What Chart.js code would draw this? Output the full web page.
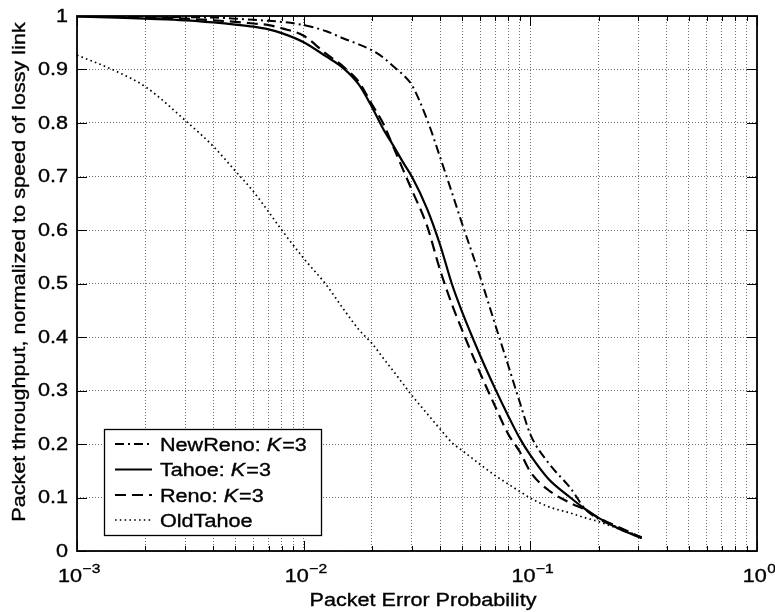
<!DOCTYPE html>
<html>
<head>
<meta charset="utf-8">
<script src="https://cdn.jsdelivr.net/npm/chart.js@4.4.1/dist/chart.umd.min.js"></script>
<style>
  html, body { margin: 0; padding: 0; background: #fff; }
</style>
</head>
<body>
<canvas id="chart" width="775" height="612"></canvas>
<script>
// packet error probability (x, log scale)
const errProb = [0.001, 0.0015, 0.002, 0.003, 0.004, 0.005, 0.006, 0.007, 0.008, 0.01,
  0.0125, 0.015, 0.0175, 0.02, 0.0225, 0.025, 0.0275, 0.03, 0.035, 0.04, 0.045, 0.05,
  0.06, 0.07, 0.08, 0.09, 0.1, 0.12, 0.15, 0.175, 0.2, 0.25, 0.31];

// normalized packet throughput
const newReno = [1.0, 1.0, 0.999, 0.998, 0.997, 0.995, 0.993, 0.991, 0.989, 0.983,
  0.972, 0.958, 0.947, 0.936, 0.922, 0.905, 0.89, 0.871, 0.807, 0.736, 0.671, 0.612,
  0.513, 0.423, 0.346, 0.277, 0.218, 0.165, 0.118, 0.078, 0.06, 0.042, 0.025];
const tahoe = [0.999, 0.997, 0.995, 0.992, 0.988, 0.984, 0.98, 0.975, 0.968, 0.951,
  0.925, 0.902, 0.872, 0.83, 0.788, 0.756, 0.726, 0.70, 0.64, 0.572, 0.5, 0.447,
  0.366, 0.303, 0.252, 0.21, 0.179, 0.135, 0.10, 0.078, 0.062, 0.04, 0.024];
const reno = [1.0, 0.999, 0.998, 0.995, 0.992, 0.989, 0.986, 0.983, 0.977, 0.963,
  0.93, 0.905, 0.877, 0.835, 0.798, 0.753, 0.712, 0.675, 0.608, 0.525, 0.462, 0.413,
  0.333, 0.27, 0.218, 0.185, 0.148, 0.114, 0.09, 0.077, 0.062, 0.043, 0.025];
const oldTahoe = [0.927, 0.896, 0.868, 0.805, 0.756, 0.71, 0.672, 0.634, 0.60, 0.547,
  0.499, 0.452, 0.414, 0.388, 0.36, 0.335, 0.312, 0.291, 0.257, 0.228, 0.203, 0.188,
  0.162, 0.141, 0.125, 0.111, 0.099, 0.083, 0.071, 0.062, 0.055, 0.04, 0.026];

const xTicks = [];
[0.001, 0.01, 0.1].forEach(d => { for (let k = 1; k < 10; k++) xTicks.push(+(d * k).toPrecision(2)); });
xTicks.push(1);
const yTicks = [0, 0.1, 0.2, 0.3, 0.4, 0.5, 0.6, 0.7, 0.8, 0.9, 1];

const seriesNames = ['NewReno', 'Tahoe', 'Reno', 'OldTahoe'];
const seriesDash = [[9, 4, 2, 4], [], [11, 6], [1.6, 3.2]];
const seriesWidth = [2, 2.2, 2.2, 1.7];

const FONT = '"Liberation Sans", Arial, sans-serif';
const SX = 1.2; // the figure's lettering is stretched along the text

function toPts(ys) {
  return errProb.map((x, i) => ({ x: x, y: ys[i] }));
}

function txt(ctx, s, x, y, size, align, baseline, italic) {
  ctx.save();
  ctx.font = (italic ? 'italic ' : '') + size + 'px ' + FONT;
  const w = ctx.measureText(s).width * SX;
  let x0 = x;
  if (align === 'right') x0 = x - w;
  else if (align === 'center') x0 = x - w / 2;
  ctx.translate(x0, y);
  ctx.scale(SX, 1);
  ctx.textAlign = 'left';
  ctx.textBaseline = baseline || 'alphabetic';
  ctx.fillStyle = '#000';
  ctx.strokeStyle = '#000';
  ctx.lineWidth = 0.35;
  ctx.fillText(s, 0, 0);
  ctx.strokeText(s, 0, 0);
  ctx.restore();
  return w;
}

const decorations = {
  id: 'decorations',
  afterDraw(chart) {
    const ctx = chart.ctx;
    const a = chart.chartArea;
    const xs = chart.scales.x, ys = chart.scales.y;

    // frame
    ctx.save();
    ctx.strokeStyle = '#000';
    ctx.lineWidth = 1.8;
    ctx.strokeRect(a.left, a.top, a.right - a.left, a.bottom - a.top);

    // inner tick marks
    ctx.lineWidth = 1;
    ctx.beginPath();
    xs.ticks.forEach(t => {
      const px = Math.round(xs.getPixelForValue(t.value)) + 0.5;
      const major = Math.abs(Math.log10(t.value) - Math.round(Math.log10(t.value))) < 1e-6;
      const len = major ? 10 : 5;
      ctx.moveTo(px, a.bottom); ctx.lineTo(px, a.bottom - len);
      ctx.moveTo(px, a.top); ctx.lineTo(px, a.top + len);
    });
    ys.ticks.forEach(t => {
      const py = Math.round(ys.getPixelForValue(t.value)) + 0.5;
      ctx.moveTo(a.left, py); ctx.lineTo(a.left + 10, py);
      ctx.moveTo(a.right, py); ctx.lineTo(a.right - 10, py);
    });
    ctx.stroke();
    ctx.restore();

    // y tick labels
    ys.ticks.forEach(t => {
      const v = t.value;
      const label = (v === 0 || v === 1) ? String(v) : v.toFixed(1);
      txt(ctx, label, a.left - 9, ys.getPixelForValue(v) + 1, 18, 'right', 'middle');
    });

    // x tick labels: powers of ten with superscript exponent
    xs.ticks.forEach(t => {
      const e = Math.log10(t.value);
      if (Math.abs(e - Math.round(e)) > 1e-6) return;
      const exp = Math.round(e);
      const expStr = exp < 0 ? '\u2212' + (-exp) : String(exp);
      ctx.font = '18px ' + FONT;
      const wBase = ctx.measureText('10').width * SX;
      ctx.font = '13px ' + FONT;
      const wExp = ctx.measureText(expStr).width * SX;
      const cx = xs.getPixelForValue(t.value) + 2;
      const x0 = cx - (wBase + wExp) / 2;
      txt(ctx, '10', x0, 582, 18, 'left');
      txt(ctx, expStr, x0 + wBase + 0.5, 573, 13, 'left');
    });

    // axis titles
    txt(ctx, 'Packet Error Probability', (a.left + a.right) / 2 + 6, 606, 18, 'center');
    ctx.save();
    ctx.translate(25, 272);
    ctx.rotate(-Math.PI / 2);
    txt(ctx, 'Packet throughput, normalized to speed of lossy link', 0, 0, 18, 'center');
    ctx.restore();

    // legend
    const bx = 104, by = 429, bw = 217, bh = 106;
    ctx.save();
    ctx.fillStyle = '#fff';
    ctx.fillRect(bx, by, bw, bh);
    ctx.strokeStyle = '#000';
    ctx.lineWidth = 1.3;
    ctx.strokeRect(bx + 0.5, by + 0.5, bw, bh);
    ctx.restore();
    const rowY = [444, 469.5, 495, 520];
    seriesNames.forEach((name, i) => {
      const y = rowY[i];
      ctx.save();
      ctx.strokeStyle = '#000';
      ctx.lineWidth = seriesWidth[i];
      ctx.setLineDash(seriesDash[i]);
      ctx.beginPath();
      ctx.moveTo(115, y);
      ctx.lineTo(152, y);
      ctx.stroke();
      ctx.restore();
      const base = y + 6.5;
      if (name === 'OldTahoe') {
        txt(ctx, name, 160, base, 18, 'left');
      } else {
        let x = 160 + txt(ctx, name + ': ', 160, base, 18, 'left');
        x += txt(ctx, 'K', x, base, 18, 'left', 'alphabetic', true);
        txt(ctx, '=3', x + 1, base, 18, 'left');
      }
    });
  }
};

const lineStyle = i => ({
  borderColor: '#000',
  borderWidth: seriesWidth[i],
  borderDash: seriesDash[i],
  pointRadius: 0,
  fill: false,
  cubicInterpolationMode: 'monotone'
});

new Chart(document.getElementById('chart'), {
  type: 'line',
  data: {
    datasets: [
      Object.assign({ label: 'NewReno: K=3', data: toPts(newReno) }, lineStyle(0)),
      Object.assign({ label: 'Tahoe: K=3', data: toPts(tahoe) }, lineStyle(1)),
      Object.assign({ label: 'Reno: K=3', data: toPts(reno) }, lineStyle(2)),
      Object.assign({ label: 'OldTahoe', data: toPts(oldTahoe) }, lineStyle(3))
    ]
  },
  options: {
    responsive: false,
    animation: false,
    devicePixelRatio: 1,
    layout: { padding: { left: 0, right: 18, top: 16, bottom: 0 } },
    plugins: { legend: { display: false }, tooltip: { enabled: false } },
    scales: {
      x: {
        type: 'logarithmic',
        min: 0.001,
        max: 1,
        afterBuildTicks: s => { s.ticks = xTicks.map(v => ({ value: v })); },
        afterFit: s => { s.height = 61; },
        ticks: { display: false },
        grid: { color: '#6e6e6e', lineWidth: 1, drawTicks: false },
        border: { display: false, dash: [1, 2] }
      },
      y: {
        type: 'linear',
        min: 0,
        max: 1,
        afterBuildTicks: s => { s.ticks = yTicks.map(v => ({ value: v })); },
        afterFit: s => { s.width = 77; },
        ticks: { display: false },
        grid: { color: '#6e6e6e', lineWidth: 1, drawTicks: false },
        border: { display: false, dash: [1, 2] }
      }
    }
  },
  plugins: [decorations]
});
</script>
</body>
</html>
